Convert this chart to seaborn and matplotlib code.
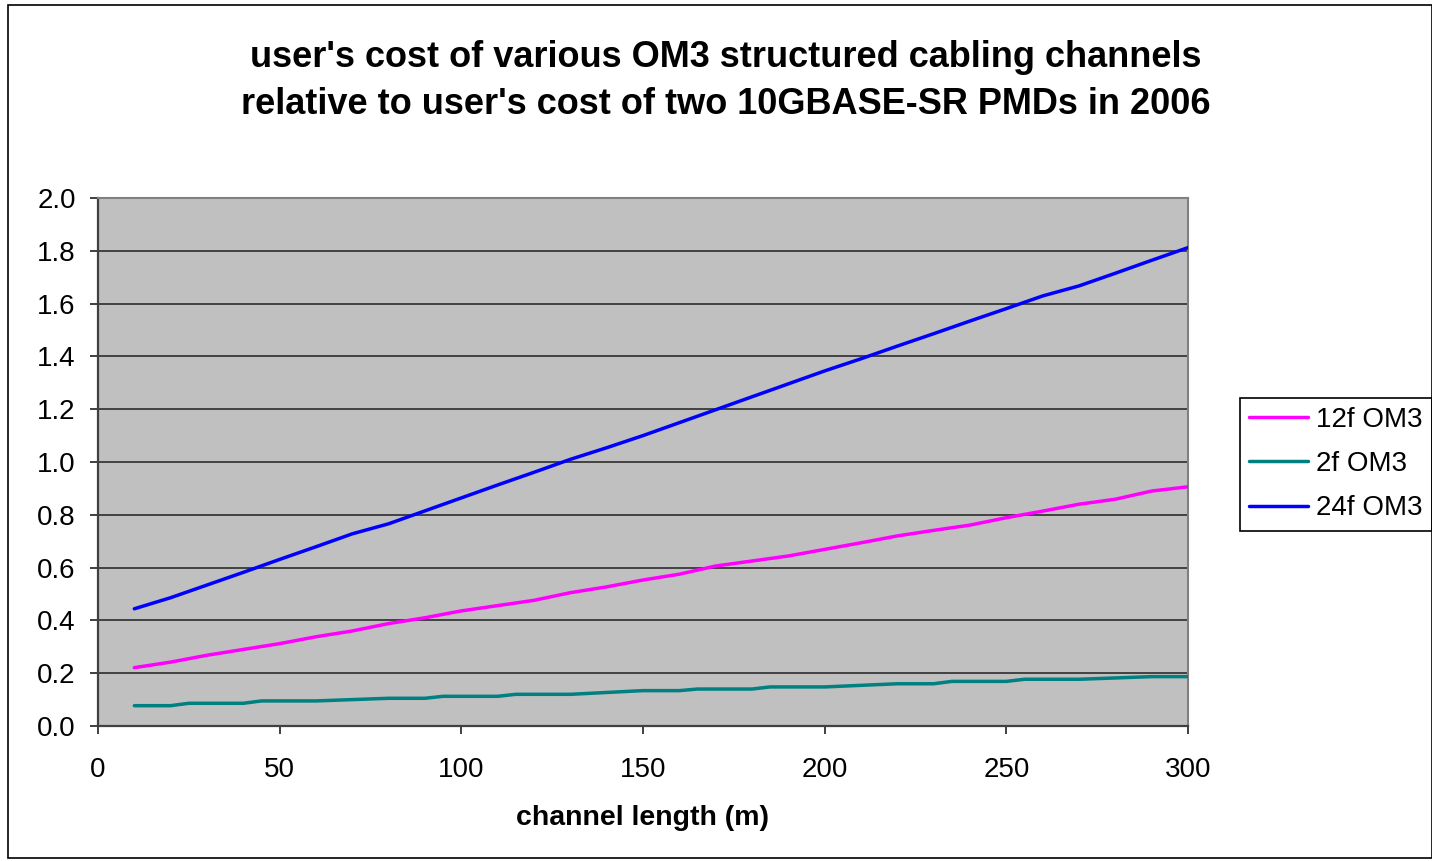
import matplotlib
matplotlib.use("Agg")
import matplotlib.pyplot as plt
import matplotlib.patches as mpatches
import pandas as pd
import seaborn as sns

# channel length (m) and relative cost for each fibre count
length_12f = [10, 20, 30, 40, 50, 60, 70, 80, 90, 100, 110, 120, 130, 140, 150,
              160, 170, 180, 190, 200, 210, 220, 230, 240, 250, 260, 270, 280, 290, 300]
cost_12f = [0.221, 0.242, 0.268, 0.290, 0.312, 0.338, 0.360, 0.388, 0.410, 0.436,
            0.456, 0.476, 0.505, 0.527, 0.553, 0.575, 0.606, 0.625, 0.644, 0.669,
            0.694, 0.720, 0.741, 0.761, 0.789, 0.814, 0.840, 0.859, 0.890, 0.906]

length_2f = [10, 20, 25, 40, 45, 60, 80, 90, 95, 110, 115, 130, 150, 160, 165, 180,
             185, 200, 220, 230, 235, 250, 255, 270, 290, 300]
cost_2f = [0.077, 0.077, 0.086, 0.086, 0.095, 0.095, 0.105, 0.105, 0.1125, 0.1125,
           0.120, 0.120, 0.134, 0.134, 0.140, 0.140, 0.148, 0.148, 0.160, 0.160,
           0.169, 0.169, 0.177, 0.177, 0.187, 0.187]

length_24f = [10, 20, 30, 40, 50, 60, 70, 80, 90, 100, 110, 120, 130, 140, 150,
              160, 170, 180, 190, 200, 210, 220, 230, 240, 250, 260, 270, 280, 290, 300]
cost_24f = [0.444, 0.486, 0.534, 0.582, 0.631, 0.679, 0.728, 0.766, 0.815, 0.864,
            0.913, 0.961, 1.010, 1.054, 1.100, 1.149, 1.198, 1.247, 1.296, 1.345,
            1.391, 1.439, 1.486, 1.534, 1.581, 1.629, 1.667, 1.715, 1.764, 1.812]

series_names = ["12f OM3", "2f OM3", "24f OM3"]
series_colors = ["#FF00FF", "#008080", "#0000FF"]

x_ticks = [0, 50, 100, 150, 200, 250, 300]
y_ticks = [0.0, 0.2, 0.4, 0.6, 0.8, 1.0, 1.2, 1.4, 1.6, 1.8, 2.0]

title_text = ("user's cost of various OM3 structured cabling channels\n"
              "relative to user's cost of two 10GBASE-SR PMDs in 2006")
x_label = "channel length (m)"

frames = []
for name, xs, ys in zip(series_names,
                        [length_12f, length_2f, length_24f],
                        [cost_12f, cost_2f, cost_24f]):
    frames.append(pd.DataFrame({"length": xs, "cost": ys, "series": name}))
data = pd.concat(frames, ignore_index=True)

sns.set_style("white")
plt.rcParams["font.family"] = ["Liberation Sans", "DejaVu Sans"]
plt.rcParams["text.color"] = "black"
plt.rcParams["axes.labelcolor"] = "black"
plt.rcParams["xtick.color"] = "black"
plt.rcParams["ytick.color"] = "black"

W, H = 1432, 861
fig = plt.figure(figsize=(W / 100, H / 100), dpi=100)
fig.patch.set_facecolor("white")

ax = fig.add_axes([98 / W, 1 - 726 / H, (1188 - 98) / W, (726 - 198) / H])
ax.set_facecolor("#C0C0C0")

sns.lineplot(data=data, x="length", y="cost", hue="series",
             hue_order=series_names, palette=dict(zip(series_names, series_colors)),
             linewidth=2.5, sort=False, estimator=None, ax=ax, zorder=3)

ax.set_xlim(0, 300)
ax.set_ylim(0, 2.0)
ax.set_xticks(x_ticks)
ax.set_yticks(y_ticks)
ax.set_yticklabels([f"{v:.1f}" for v in y_ticks])
ax.set_xticklabels([str(v) for v in x_ticks])

ax.yaxis.grid(True, color="#202020", linewidth=1.1)
ax.xaxis.grid(False)
ax.set_axisbelow(True)

for side in ["top", "right"]:
    ax.spines[side].set_color("#808080")
    ax.spines[side].set_linewidth(1.5)
for side in ["left", "bottom"]:
    ax.spines[side].set_color("#404040")
    ax.spines[side].set_linewidth(1.6)

ax.tick_params(axis="both", direction="out", length=6, width=1.3, color="#303030",
               labelsize=20, labelcolor="black")
ax.tick_params(axis="y", pad=10, left=True)
ax.tick_params(axis="x", pad=16, bottom=True)

ax.set_xlabel(x_label, fontsize=20.5, fontweight="bold", labelpad=16, color="black")
ax.set_ylabel("")

fig.text(0.5069, 1 - 81 / H, title_text, ha="center", va="center",
         fontsize=26, fontweight="bold", linespacing=1.48, color="black")

leg = ax.legend(loc="center left", bbox_to_anchor=(1240 / W, 1 - 464 / H),
                bbox_transform=fig.transFigure, fontsize=20, frameon=True,
                fancybox=False, framealpha=1, edgecolor="black",
                handlelength=2.1, handletextpad=0.3, labelspacing=0.66,
                borderpad=0.33, borderaxespad=0)
leg.get_frame().set_linewidth(1.2)
for line in leg.get_lines():
    line.set_linewidth(2.5)
for txt in leg.get_texts():
    txt.set_color("black")

border = mpatches.Rectangle((8 / W, 1 - 858 / H), (W - 8) / W, (858 - 5) / H,
                            transform=fig.transFigure, fill=False,
                            edgecolor="black", linewidth=1.2)
fig.patches.append(border)

fig.savefig("out.png", dpi=100)
